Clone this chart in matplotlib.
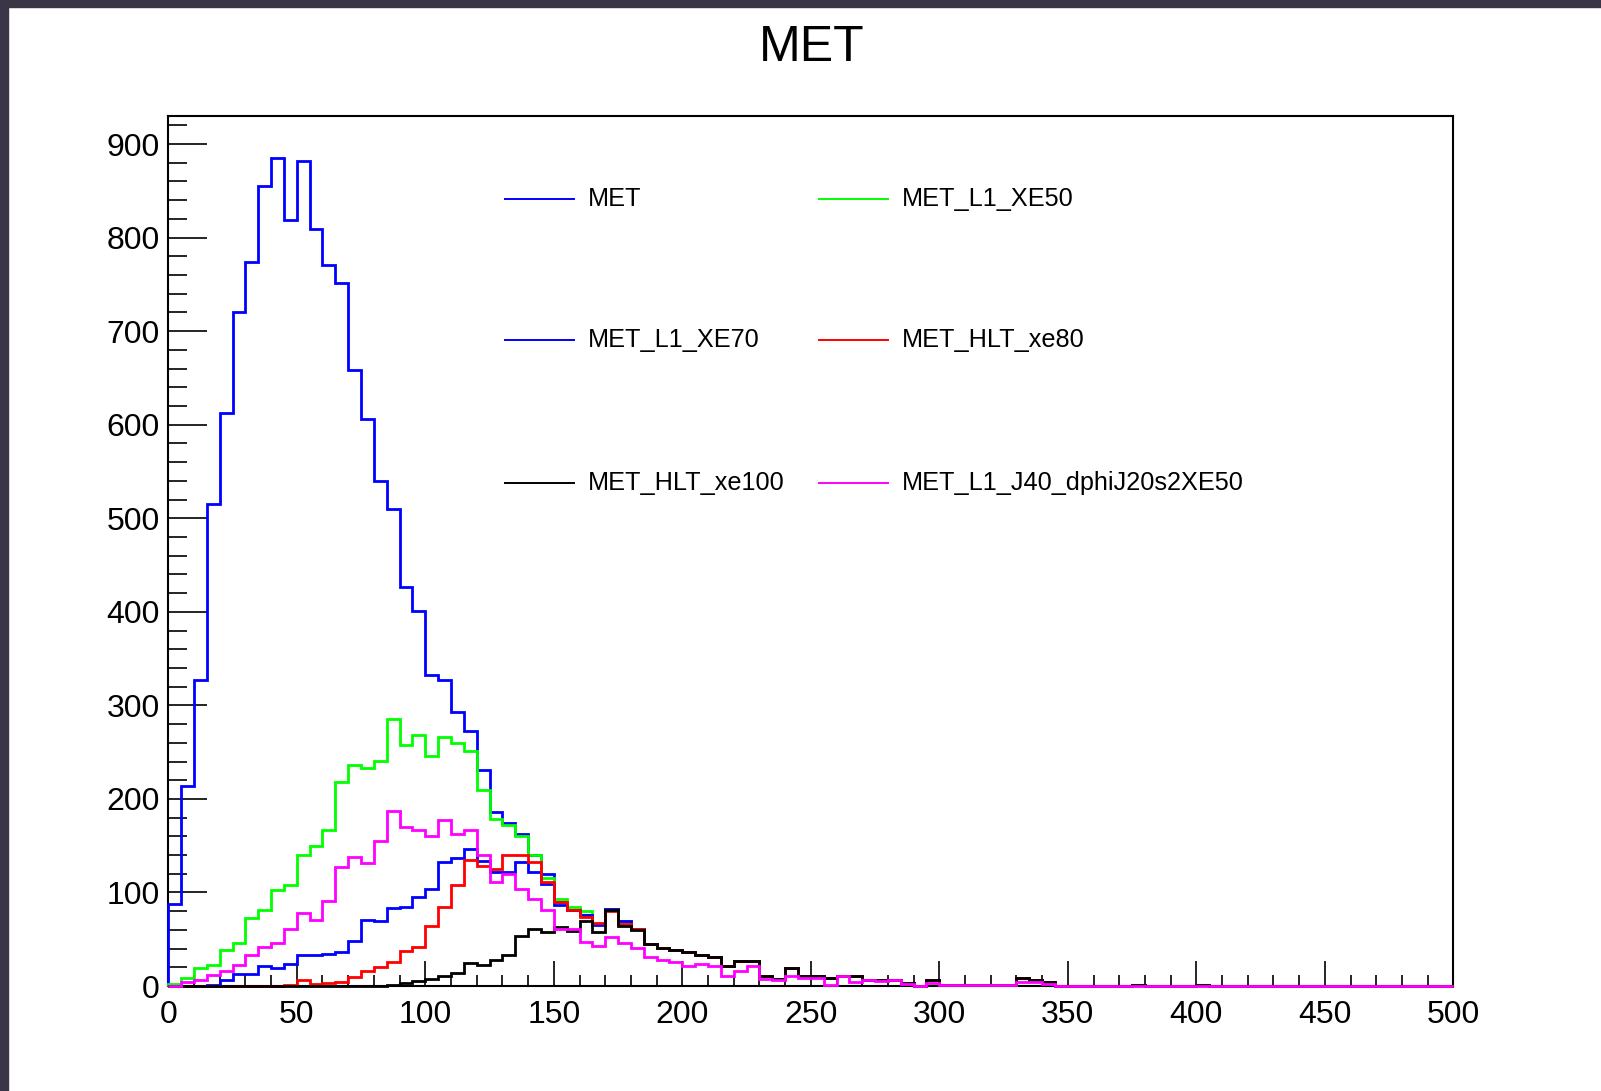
import numpy as np
import matplotlib
matplotlib.use('Agg')
from matplotlib import pyplot as plt
from matplotlib.ticker import MultipleLocator
from matplotlib.patches import Rectangle

# 100 bins of width 5 from 0 to 500
bin_edges = np.arange(0, 505, 5)

# bins 0..180 (37 values)
met_head = [88, 214, 327, 515, 613, 720, 774, 855, 885, 819, 882, 809, 771, 752, 659, 606, 540, 510, 426, 401,
            332, 327, 293, 273, 231, 186, 174, 162, 140, 120, 90, 81, 76, 66, 82, 69, 61]
xe50_head = [2, 9, 19, 23, 38, 46, 73, 81, 103, 108, 140, 150, 167, 218, 236, 233, 241, 285, 258, 268,
             246, 266, 260, 251, 210, 179, 172, 160, 140, 116, 93, 85, 80, 66, 82, 69, 61]
xe70_head = [0, 0, 0, 1, 6, 13, 13, 21, 19, 24, 33, 33, 34, 36, 48, 71, 69, 83, 85, 95,
             104, 133, 137, 147, 134, 122, 122, 133, 122, 109, 87, 81, 76, 65, 82, 69, 61]
xe80_head = [0, 0, 0, 0, 0, 0, 0, 0, 0, 1, 6, 2, 3, 4, 10, 16, 20, 26, 37, 42,
             64, 85, 108, 135, 128, 125, 140, 140, 133, 111, 90, 81, 74, 67, 80, 66, 61]
xe100_head = [0, 0, 0, 0, 0, 0, 0, 0, 0, 0, 0, 0, 0, 0, 0, 0, 0, 1, 3, 5,
              8, 11, 14, 25, 22, 28, 33, 53, 61, 58, 63, 59, 69, 58, 81, 64, 60]
j40_head = [0, 4, 6, 12, 16, 22, 33, 42, 46, 61, 78, 71, 91, 127, 138, 131, 155, 187, 170, 167,
            160, 177, 162, 167, 140, 111, 120, 104, 93, 81, 61, 61, 47, 43, 52, 46, 41]

# bins 185..495 (63 values): the triggered curves all sit on top of each other here
shared_tail = [45, 41, 38, 36, 33, 31, 21, 27, 27, 11, 8, 19, 11, 11, 9, 11, 11, 6, 6, 6,
               3, 0, 6, 1, 1, 1, 1, 1, 1, 9, 6, 4, 0, 0, 0, 0, 0, 0, 1, 0,
               0, 0, 0, 1, 0, 0, 0, 0, 0, 0, 0, 0, 0, 0, 0, 0, 0, 0, 0, 0,
               0, 0, 0]
j40_tail = [31, 28, 26, 21, 24, 21, 11, 16, 21, 8, 6, 11, 9, 9, 1, 11, 4, 6, 5, 6,
            2, 0, 3, 1, 1, 1, 1, 1, 1, 4, 4, 2, 0, 0, 0, 0, 0, 0, 0, 0,
            0, 0, 0, 0, 0, 0, 0, 0, 0, 0, 0, 0, 0, 0, 0, 0, 0, 0, 0, 0,
            0, 0, 0]

labels = ['MET', 'MET_L1_XE50', 'MET_L1_XE70', 'MET_HLT_xe80', 'MET_HLT_xe100', 'MET_L1_J40_dphiJ20s2XE50']
colors = ['#0000ff', '#00ff00', '#0000ff', '#ff0000', '#000000', '#ff00ff']
values = [met_head + shared_tail, xe50_head + shared_tail, xe70_head + shared_tail,
          xe80_head + shared_tail, xe100_head + shared_tail, j40_head + j40_tail]

plt.rcParams['font.family'] = ['Liberation Sans', 'DejaVu Sans']

fig = plt.figure(figsize=(16.01, 10.91), dpi=100)
ax = fig.add_axes([0.1051, 0.0962, 0.8027, 0.7975])

for vals, col in zip(values, colors):
    ax.stairs(vals, bin_edges, color=col, lw=2, clip_on=False, zorder=3)

ax.set_xlim(0, 500)
ax.set_ylim(0, 930)
ax.xaxis.set_major_locator(MultipleLocator(50))
ax.xaxis.set_minor_locator(MultipleLocator(10))
ax.yaxis.set_major_locator(MultipleLocator(100))
ax.yaxis.set_minor_locator(MultipleLocator(20))
ax.tick_params(which='both', direction='in', top=False, right=False, width=1.2, labelsize=23)
ax.tick_params(axis='y', which='major', length=28, pad=6)
ax.tick_params(axis='y', which='minor', length=13.5)
ax.tick_params(axis='x', which='major', length=18, pad=10)
ax.tick_params(axis='x', which='minor', length=8)
for sp in ax.spines.values():
    sp.set_linewidth(1.5)

# legend, two columns and three rows, no frame
leg_cols = [(0.262, 0.3157, 0.3266), (0.5063, 0.5600, 0.5706)]
leg_rows = [0.9046, 0.7425, 0.5782]
leg_slots = [(0, 0), (1, 0), (0, 1), (1, 1), (0, 2), (1, 2)]
for lab, col, (c, r) in zip(labels, colors, leg_slots):
    x0, x1, xt = leg_cols[c]
    y = leg_rows[r]
    ax.plot([x0, x1], [y, y], color=col, lw=1.4, transform=ax.transAxes)
    ax.text(xt, y, lab, fontsize=18.2, ha='left', va='center', transform=ax.transAxes)

fig.text(0.507, 0.956, 'MET', ha='center', va='center', fontsize=36)

# dark window border at the top and left of the screenshot
fig.patches.append(Rectangle((0, 1 - 7 / 1091), 1, 7 / 1091, transform=fig.transFigure,
                             color='#3a3547', zorder=10))
fig.patches.append(Rectangle((0, 0), 8 / 1601, 1, transform=fig.transFigure,
                             color='#3a3547', zorder=10))

fig.savefig('out.png', dpi=100)
